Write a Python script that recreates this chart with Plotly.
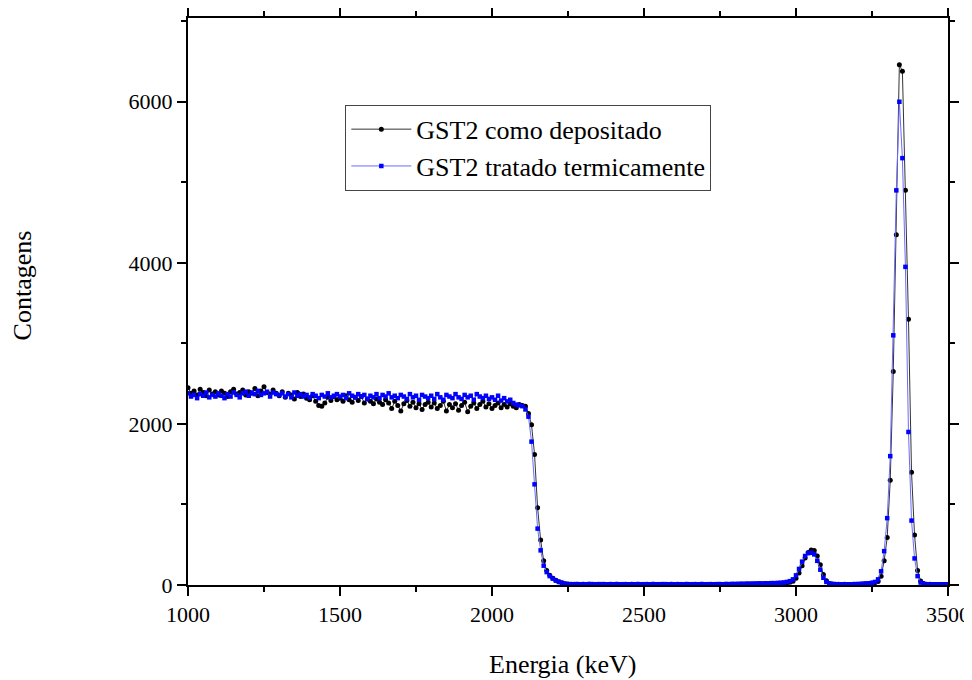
import plotly.graph_objects as go

# Energy channels (keV)
energy = list(range(1000, 3501, 10))

# GST2 como depositado (black)
counts_dep = [
    2450, 2380, 2410, 2360, 2430, 2390, 2350, 2420, 2370, 2400,
    2360, 2410, 2380, 2340, 2400, 2430, 2370, 2390, 2420, 2360,
    2400, 2380, 2440, 2350, 2410, 2460, 2390, 2370, 2420, 2380,
    2350, 2400, 2330, 2380, 2360, 2310, 2390, 2340, 2370, 2320,
    2300, 2350, 2280, 2230, 2220, 2260, 2330, 2290, 2340, 2300,
    2320, 2280, 2350, 2300, 2270, 2330, 2290, 2340, 2260, 2310,
    2280, 2250, 2310, 2270, 2240, 2300, 2260, 2190, 2280, 2230,
    2160, 2250, 2290, 2220, 2270, 2200, 2250, 2180, 2240, 2270,
    2210, 2260, 2190, 2230, 2280, 2160, 2240, 2200, 2250, 2170,
    2230, 2270, 2150, 2220, 2260, 2190, 2240, 2280, 2210, 2250,
    2190, 2230, 2260, 2200, 2240, 2210, 2250, 2220, 2200, 2240,
    2230,
    2220, 2130, 1990, 1620, 960, 560, 300, 180, 120, 85, 58, 40, 27, 17, 11,
    9, 8, 10, 7, 9, 6, 8, 10, 7, 8,
    6, 9, 7, 8, 5, 9, 7, 6, 8, 7,
    9, 6, 8, 7, 5, 8, 6, 9, 7, 6,
    8, 5, 7, 9, 6, 8, 7, 5, 9, 6,
    7, 8, 6, 9, 5, 7, 8, 6, 7, 9,
    6, 8, 7, 10, 8, 9, 11, 10, 12, 11,
    13, 12, 14, 13, 15, 14, 16, 15, 17,
    18, 22, 26, 33, 48, 85, 150, 240, 335, 405, 435, 428, 360, 250, 130, 52, 20,
    12, 9, 8, 7, 8, 6, 7, 8, 9, 10, 12, 14, 17, 22, 30,
    45, 110, 300, 590, 1300, 2650, 4350, 6460, 6380, 4900, 3300, 1400, 620, 180, 50, 18,
    10, 8, 7, 6, 7, 5, 6, 5,
]

# GST2 tratado termicamente (blue)
counts_trat = [
    2380, 2340, 2360, 2320, 2370, 2350, 2390, 2330, 2360, 2340,
    2380, 2350, 2320, 2370, 2340, 2390, 2360, 2330, 2380, 2400,
    2350, 2390, 2370, 2410, 2360, 2380, 2400, 2340, 2390, 2370,
    2360, 2380, 2340, 2370, 2330, 2390, 2350, 2370, 2340, 2360,
    2330, 2370, 2350, 2320, 2360, 2340, 2380, 2330, 2350, 2370,
    2340, 2360, 2320, 2380, 2350, 2330, 2370, 2340, 2360, 2310,
    2350, 2330, 2370, 2320, 2360, 2340, 2380, 2330, 2350, 2320,
    2360, 2340, 2310, 2370, 2330, 2350, 2300, 2360, 2340, 2320,
    2350, 2310, 2370, 2330, 2300, 2360, 2340, 2320, 2370, 2330,
    2310, 2360, 2330, 2350, 2300, 2370, 2340, 2320, 2350, 2310,
    2330, 2300, 2350, 2290, 2320, 2280, 2300, 2260, 2240, 2230,
    2220,
    2180, 2090, 1780, 1250, 700, 430, 240, 160, 110, 80, 55, 38, 26, 16, 10,
    10, 9, 11, 8, 10, 9, 12, 8, 10, 9,
    11, 8, 9, 10, 8, 11, 9, 10, 8, 9,
    10, 8, 11, 9, 10, 8, 9, 11, 8, 10,
    9, 11, 8, 10, 9, 8, 10, 9, 11, 8,
    10, 9, 8, 11, 9, 10, 8, 9, 11, 10,
    9, 12, 11, 13, 12, 14, 13, 15, 16, 15,
    17, 18, 20, 19, 22, 21, 24, 23, 26,
    28, 32, 38, 48, 70, 120, 200, 290, 360, 395, 400, 380, 300, 190, 90, 38, 18,
    12, 10, 9, 8, 9, 8, 9, 10, 11, 13, 15, 18, 22, 28, 38,
    70, 170, 420, 830, 1600, 3100, 4900, 6000, 5300, 3950, 1900, 800, 330, 110, 30, 12,
    9, 8, 7, 8, 6, 7, 6, 6,
]

series_names = ["GST2 como depositado", "GST2 tratado termicamente"]

assert len(counts_dep) == len(energy), len(counts_dep)
assert len(counts_trat) == len(energy), len(counts_trat)

FONT = "Liberation Serif"

fig = go.Figure()
fig.add_trace(go.Scatter(
    x=energy, y=counts_dep, mode="lines+markers", name=series_names[0],
    line=dict(color="#333333", width=1),
    marker=dict(symbol="circle", size=5, color="black"),
))
fig.add_trace(go.Scatter(
    x=energy, y=counts_trat, mode="lines+markers", name=series_names[1],
    line=dict(color="#6a6aff", width=1),
    marker=dict(symbol="square", size=4.5, color="#0000ff"),
))

axis_common = dict(
    showgrid=False, zeroline=False, showline=True, linecolor="black", linewidth=2,
    mirror="ticks", ticks="outside", ticklen=9, tickwidth=2, tickcolor="black",
    tickfont=dict(family=FONT, size=22, color="black"), automargin=False,
)

fig.update_xaxes(
    range=[1000, 3500], tickmode="linear", tick0=1000, dtick=500,
    minor=dict(ticks="outside", ticklen=5, tickwidth=2, tickcolor="black", dtick=250, tick0=1000),
    **axis_common,
)
fig.update_yaxes(
    range=[0, 7040], tickmode="linear", tick0=0, dtick=2000,
    minor=dict(ticks="outside", ticklen=5, tickwidth=2, tickcolor="black", dtick=1000, tick0=0),
    **axis_common,
)

fig.update_layout(
    width=964, height=672,
    margin=dict(l=180, r=24, t=10, b=95, autoexpand=False),
    paper_bgcolor="white", plot_bgcolor="white",
    font=dict(family=FONT, color="black"),
    showlegend=True,
    legend=dict(
        x=0.207, y=0.847, xanchor="left", yanchor="top",
        bgcolor="white", bordercolor="#444444", borderwidth=1,
        font=dict(family=FONT, size=26, color="black"),
        itemwidth=60, tracegroupgap=0,
    ),
    annotations=[
        dict(text="Energia (keV)", xref="paper", yref="paper", x=0.493, y=-0.141,
             xanchor="center", yanchor="middle", showarrow=False,
             font=dict(family=FONT, size=26, color="black")),
        dict(text="Contagens", xref="paper", yref="paper", x=-0.218, y=0.529,
             xanchor="center", yanchor="middle", showarrow=False, textangle=-90,
             font=dict(family=FONT, size=26, color="black")),
    ],
)

fig.write_html("out.html")
